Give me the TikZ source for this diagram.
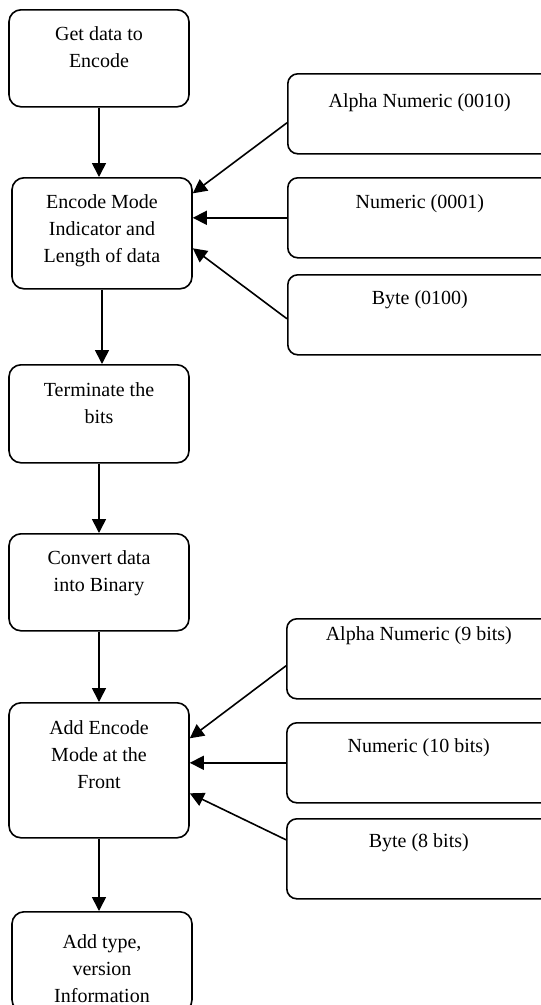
\documentclass[tikz,border=0pt]{standalone}
\usepackage{fontspec}
\setmainfont{Liberation Serif}
\usepackage{tikz}
\usetikzlibrary{arrows.meta}
\usetikzlibrary{positioning}

\tikzset{
  flowbox/.style={draw, line width=1.6pt, rounded corners=12pt, minimum width=180pt, anchor=north},
  sidebox/.style={draw, line width=1.6pt, rounded corners=10pt, minimum width=264pt, minimum height=80pt, anchor=north west},
  boxtext/.style={anchor=north, align=center, inner sep=0pt, yshift=-17pt, font=\fontsize{20}{27}\selectfont},
  link/.style={line width=1.6pt, -{Triangle[length=14pt,width=14pt]}},
}

\begin{document}
\begin{tikzpicture}[x=1pt, y=-1pt]
    \useasboundingbox (0,0) rectangle (541,1005);

    % main steps
    \node[flowbox, minimum height=97pt, label={[boxtext]north:{Get data to\\Encode}}] (getdata) at (99,9) {};
    \node[flowbox, minimum height=111pt, label={[boxtext]north:{Encode Mode\\Indicator and\\Length of data}}] (encmode) at (102,177) {};
    \node[flowbox, minimum height=98pt, label={[boxtext, yshift=-1pt]north:{Terminate the\\bits}}] (terminate) at (99,364) {};
    \node[flowbox, minimum height=97pt, label={[boxtext]north:{Convert data\\into Binary}}] (convert) at (99,533) {};
    \node[flowbox, minimum height=135pt, label={[boxtext, yshift=-1pt]north:{Add Encode\\Mode at the\\Front}}] (addmode) at (99,702) {};
    \node[flowbox, minimum height=100pt, label={[boxtext, yshift=-6pt]north:{Add type,\\version\\Information}}] (addtype) at (102,911) {};

    % mode indicators
    \node[sidebox, label={[boxtext, yshift=-3pt]north:{Alpha Numeric (0010)}}] (alpha1) at (287,73) {};
    \node[sidebox, label={[boxtext]north:{Numeric (0001)}}] (numeric1) at (287,177) {};
    \node[sidebox, label={[boxtext, yshift=1pt]north:{Byte (0100)}}] (byte1) at (287,274) {};

    % length bits
    \node[sidebox, label={[boxtext, yshift=9pt]north:{Alpha Numeric (9 bits)}}] (alpha2) at (286,618) {};
    \node[sidebox, label={[boxtext, yshift=1pt]north:{Numeric (10 bits)}}] (numeric2) at (286,722) {};
    \node[sidebox, label={[boxtext, yshift=2pt]north:{Byte (8 bits)}}] (byte2) at (286,818) {};

    \draw[link] (getdata.south) -- (getdata.south |- encmode.north);
    \draw[link] (encmode.south) -- (encmode.south |- terminate.north);
    \draw[link] (terminate.south) -- (terminate.south |- convert.north);
    \draw[link] (convert.south) -- (convert.south |- addmode.north);
    \draw[link] (addmode.south) -- (addmode.south |- addtype.north);

    \draw[link] ([yshift=-9pt]alpha1.west) -- ([yshift=40pt]encmode.east);
    \draw[link] (numeric1.west) -- (numeric1.west -| encmode.east);
    \draw[link] ([yshift=-4pt]byte1.west) -- ([yshift=-15pt]encmode.east);

    \draw[link] ([yshift=-7pt]alpha2.west) -- ([yshift=32pt]addmode.east);
    \draw[link] (numeric2.west) -- (numeric2.west -| addmode.east);
    \draw[link] ([yshift=19pt]byte2.west) -- ([yshift=-23pt]addmode.east);
\end{tikzpicture}
\end{document}
